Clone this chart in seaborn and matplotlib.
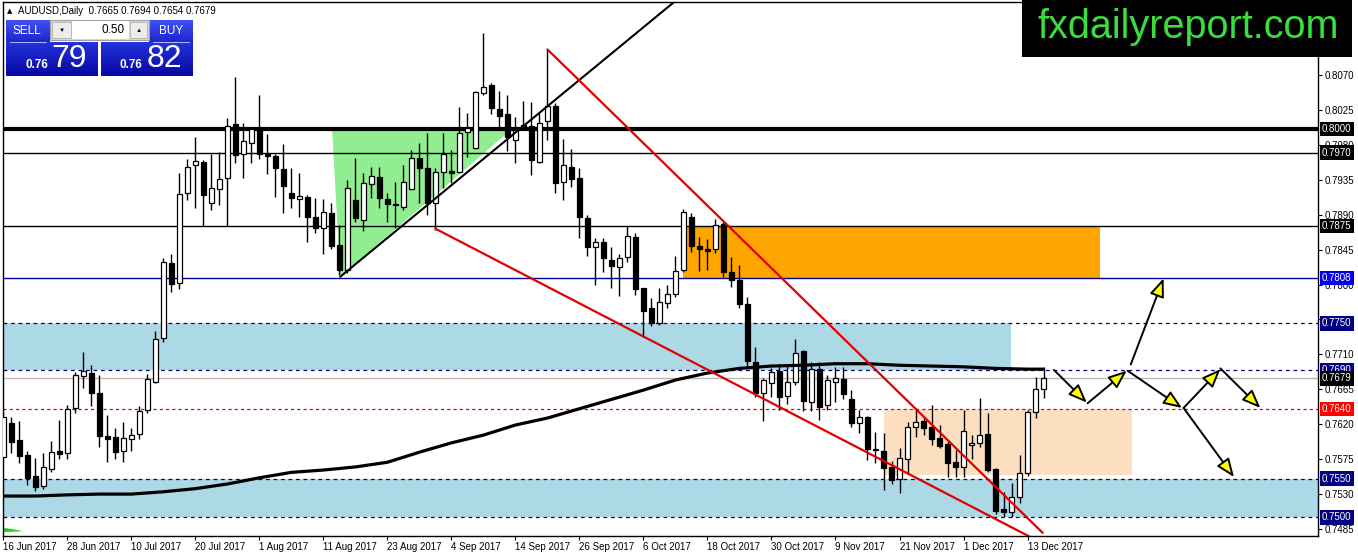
import numpy as np
import pandas as pd
import seaborn as sns
import matplotlib.pyplot as plt
from matplotlib.patches import Rectangle, Polygon
from matplotlib.colors import LinearSegmentedColormap
import matplotlib.transforms as mtransforms

sns.set_style("white")
plt.rcParams['font.family'] = ['Liberation Sans', 'DejaVu Sans']

# daily AUDUSD candles, 16 Jun 2017 .. 15 Dec 2017
opens = [0.7578, 0.7622, 0.7600, 0.7580, 0.7553, 0.7540, 0.7562, 0.7585, 0.7583, 0.7641,
         0.7682, 0.7686, 0.7660, 0.7605, 0.7604, 0.7585, 0.7601, 0.7607, 0.7638, 0.7674,
         0.7731, 0.7828, 0.7802, 0.7918, 0.7954, 0.7958, 0.7905, 0.7923, 0.7937, 0.8007,
         0.7968, 0.7982, 0.8002, 0.7968, 0.7966, 0.7949, 0.7918, 0.7910, 0.7913, 0.7887,
         0.7873, 0.7892, 0.7851, 0.7819, 0.7909, 0.7883, 0.7930, 0.7939, 0.7910, 0.7904,
         0.7900, 0.7923, 0.7963, 0.7950, 0.7905, 0.7945, 0.7946, 0.7945, 0.7997, 0.7976,
         0.8047, 0.8057, 0.8026, 0.8020, 0.7986, 0.8006, 0.8004, 0.7958, 0.8011, 0.8030,
         0.7932, 0.7951, 0.7937, 0.7886, 0.7848, 0.7855, 0.7832, 0.7823, 0.7836, 0.7861,
         0.7795, 0.7770, 0.7750, 0.7776, 0.7788, 0.7819, 0.7887, 0.7850, 0.7846, 0.7846,
         0.7878, 0.7816, 0.7806, 0.7775, 0.7700, 0.7660, 0.7673, 0.7689, 0.7656, 0.7674,
         0.7714, 0.7649, 0.7691, 0.7645, 0.7674, 0.7678, 0.7652, 0.7622, 0.7629, 0.7588,
         0.7586, 0.7565, 0.7549, 0.7575, 0.7616, 0.7624, 0.7616, 0.7602, 0.7594, 0.7571,
         0.7565, 0.7593, 0.7596, 0.7607, 0.7562, 0.7511, 0.7507, 0.7526, 0.7557, 0.7636,
         0.7665]
highs = [0.7636, 0.7629, 0.7624, 0.7585, 0.7576, 0.7583, 0.7598, 0.7625, 0.7645, 0.7687,
         0.7713, 0.7696, 0.7683, 0.7632, 0.7615, 0.7623, 0.7615, 0.7643, 0.7685, 0.7740,
         0.7834, 0.7839, 0.7944, 0.7962, 0.7990, 0.7960, 0.7968, 0.7971, 0.8015, 0.8067,
         0.8008, 0.8003, 0.8044, 0.7994, 0.7968, 0.7981, 0.7950, 0.7944, 0.7915, 0.7912,
         0.7910, 0.7905, 0.7877, 0.7935, 0.7963, 0.7944, 0.7951, 0.7951, 0.7918, 0.7932,
         0.7954, 0.7973, 0.7982, 0.7995, 0.7950, 0.7995, 0.7973, 0.8029, 0.8021, 0.8050,
         0.8124, 0.8060, 0.8049, 0.8044, 0.8016, 0.8037, 0.8035, 0.8021, 0.8103, 0.8034,
         0.7988, 0.7975, 0.7950, 0.7890, 0.7860, 0.7860, 0.7848, 0.7839, 0.7875, 0.7866,
         0.7796, 0.7783, 0.7796, 0.7799, 0.7837, 0.7897, 0.7892, 0.7861, 0.7859, 0.7884,
         0.7880, 0.7836, 0.7825, 0.7784, 0.7720, 0.7680, 0.7692, 0.7698, 0.7695, 0.7730,
         0.7716, 0.7700, 0.7700, 0.7683, 0.7694, 0.7694, 0.7664, 0.7638, 0.7631, 0.7610,
         0.7609, 0.7573, 0.7589, 0.7623, 0.7641, 0.7629, 0.7645, 0.7619, 0.7600, 0.7587,
         0.7638, 0.7606, 0.7654, 0.7634, 0.7564, 0.7533, 0.7544, 0.7580, 0.7638, 0.7681,
         0.7694]
lows = [0.7574, 0.7583, 0.7570, 0.7542, 0.7534, 0.7537, 0.7558, 0.7575, 0.7575, 0.7634,
        0.7667, 0.7643, 0.7591, 0.7571, 0.7575, 0.7571, 0.7585, 0.7601, 0.7634, 0.7673,
        0.7726, 0.7790, 0.7794, 0.7909, 0.7899, 0.7875, 0.7896, 0.7902, 0.7875, 0.7957,
        0.7937, 0.7957, 0.7962, 0.7942, 0.7913, 0.7892, 0.7899, 0.7887, 0.7855, 0.7866,
        0.7839, 0.7846, 0.7812, 0.7815, 0.7881, 0.7869, 0.7912, 0.7899, 0.7881, 0.7873,
        0.7896, 0.7922, 0.7905, 0.7890, 0.7870, 0.7924, 0.7931, 0.7944, 0.7964, 0.7975,
        0.8044, 0.8020, 0.7999, 0.7972, 0.7957, 0.7999, 0.7941, 0.7957, 0.7986, 0.7918,
        0.7909, 0.7926, 0.7860, 0.7837, 0.7799, 0.7816, 0.7796, 0.7785, 0.7829, 0.7787,
        0.7732, 0.7747, 0.7748, 0.7770, 0.7784, 0.7816, 0.7842, 0.7817, 0.7819, 0.7841,
        0.7810, 0.7797, 0.7770, 0.7692, 0.7655, 0.7624, 0.7655, 0.7638, 0.7646, 0.7671,
        0.7637, 0.7637, 0.7625, 0.7638, 0.7649, 0.7652, 0.7616, 0.7609, 0.7574, 0.7570,
        0.7535, 0.7543, 0.7531, 0.7557, 0.7604, 0.7606, 0.7593, 0.7589, 0.7552, 0.7552,
        0.7552, 0.7575, 0.7591, 0.7558, 0.7504, 0.7500, 0.7500, 0.7519, 0.7553, 0.7628,
        0.7654]
closes = [0.7629, 0.7597, 0.7579, 0.7551, 0.7539, 0.7565, 0.7584, 0.7582, 0.7640, 0.7683,
          0.7689, 0.7660, 0.7605, 0.7601, 0.7584, 0.7602, 0.7606, 0.7637, 0.7678, 0.7730,
          0.7829, 0.7801, 0.7917, 0.7951, 0.7959, 0.7915, 0.7924, 0.7936, 0.8004, 0.7967,
          0.7985, 0.8000, 0.7968, 0.7966, 0.7950, 0.7927, 0.7912, 0.7914, 0.7887, 0.7873,
          0.7893, 0.7850, 0.7819, 0.7924, 0.7886, 0.7931, 0.7940, 0.7912, 0.7904, 0.7902,
          0.7932, 0.7963, 0.7950, 0.7905, 0.7945, 0.7968, 0.7944, 0.7995, 0.8002, 0.8048,
          0.8055, 0.8028, 0.8017, 0.7990, 0.7999, 0.8004, 0.7960, 0.8008, 0.8030, 0.7931,
          0.7954, 0.7936, 0.7887, 0.7848, 0.7855, 0.7834, 0.7824, 0.7834, 0.7863, 0.7794,
          0.7766, 0.7750, 0.7778, 0.7788, 0.7817, 0.7893, 0.7850, 0.7846, 0.7843, 0.7877,
          0.7816, 0.7806, 0.7775, 0.7701, 0.7660, 0.7677, 0.7687, 0.7655, 0.7674, 0.7712,
          0.7650, 0.7691, 0.7642, 0.7677, 0.7680, 0.7659, 0.7622, 0.7629, 0.7588, 0.7587,
          0.7564, 0.7548, 0.7576, 0.7616, 0.7623, 0.7615, 0.7601, 0.7592, 0.7570, 0.7565,
          0.7611, 0.7596, 0.7606, 0.7561, 0.7508, 0.7507, 0.7526, 0.7557, 0.7636, 0.7665,
          0.7679]

date_labels = ['16 Jun 2017', '28 Jun 2017', '10 Jul 2017', '20 Jul 2017', '1 Aug 2017',
               '11 Aug 2017', '23 Aug 2017', '4 Sep 2017', '14 Sep 2017', '26 Sep 2017',
               '6 Oct 2017', '18 Oct 2017', '30 Oct 2017', '9 Nov 2017', '21 Nov 2017',
               '1 Dec 2017', '13 Dec 2017']

# moving average read every 4 bars
ma_bars = [0, 4, 8, 12, 16, 20, 24, 28, 32, 36, 40, 44, 48, 52, 56, 60, 64, 68,
           72, 76, 80, 84, 88, 92, 96, 100, 104, 108, 112, 116, 120, 124, 128, 130]
ma_values = [0.75275, 0.75275, 0.7529, 0.7530, 0.7530, 0.7533, 0.7537, 0.7543, 0.7551,
             0.7558, 0.7561, 0.7565, 0.7571, 0.7584, 0.7596, 0.7606, 0.7619, 0.7628,
             0.7640, 0.7652, 0.7664, 0.7677, 0.7686, 0.7692, 0.7695, 0.7696, 0.7698,
             0.7698, 0.7696, 0.7695, 0.7694, 0.7692, 0.7691, 0.7691]

levels = [0.8000, 0.7970, 0.7875, 0.7808, 0.7750, 0.7690, 0.7679, 0.7640, 0.7550, 0.7500]
y_ticks = [0.7485, 0.7530, 0.7575, 0.7620, 0.7665, 0.7710, 0.7755, 0.7800,
           0.7845, 0.7890, 0.7935, 0.7980, 0.8025, 0.8070]
hidden_tick_labels = [0.7755]  # fully covered by the 0.7750 tag in the original

# zones: (bar from, bar to, price low, price high)
zone_upper_blue = (-1, 125.9, 0.7690, 0.7750)
zone_lower_blue = (-1, 170, 0.7500, 0.7550)
zone_orange = (85.0, 137.0, 0.7808, 0.7875)
zone_peach = (110.0, 141.0, 0.7555, 0.7640)

triangle_bars = [41.1, 63.4, 42.1]
triangle_prices = [0.7999, 0.7999, 0.7810]

trend_black = ([42.1, 85.0], [0.7810, 0.8174])
trend_red_upper = ([68.0, 129.9], [0.8103, 0.7480])
trend_red_lower = ([54.0, 129.6], [0.7872, 0.7468])

arrow_from = [(131.3, 0.7690), (135.5, 0.7647), (140.9, 0.7697), (140.5, 0.7689),
              (147.5, 0.7641), (147.5, 0.7641), (152.1, 0.7692)]
arrow_to = [(135.4, 0.7648), (140.4, 0.7689), (145.0, 0.7808), (147.3, 0.7641),
            (152.1, 0.7691), (153.8, 0.7552), (157.1, 0.7641)]

sliver_bars = [-0.3, 1.0, 2.5, 1.0, -0.3]
sliver_prices = [0.74870, 0.74850, 0.74822, 0.74815, 0.74810]

o = np.array(opens); h = np.array(highs); l = np.array(lows); c = np.array(closes)
x = np.arange(len(o))

W, H = 1358, 554
fig = plt.figure(figsize=(W / 100, H / 100), dpi=100)
ax = fig.add_axes([2.5 / W, (H - 536) / H, 1315.5 / W, 534 / H])
ax.set_xlim(-0.1, 164.3)
ax.set_ylim(0.74760, 0.81641)

# zones
for (x0, x1, p0, p1), col in [(zone_upper_blue, '#add8e6'), (zone_lower_blue, '#add8e6'),
                              (zone_orange, '#ffa500'), (zone_peach, '#fde0c2')]:
    ax.add_patch(Rectangle((x0, p0), x1 - x0, p1 - p0, fc=col, ec='none', zorder=0.5))
ax.add_patch(Polygon(list(zip(triangle_bars, triangle_prices)), closed=True,
                     fc='#90ee90', ec='none', zorder=0.6))
ax.add_patch(Polygon(list(zip(sliver_bars, sliver_prices)), closed=True,
                     fc='#22cc22', ec='none', zorder=0.6))

# horizontal levels
level_style = {
    0.8000: dict(color='black', lw=3.0, ls='-'),
    0.7970: dict(color='black', lw=1.0, ls='-'),
    0.7875: dict(color='black', lw=1.0, ls='-'),
    0.7808: dict(color='#0000a0', lw=1.0, ls='-'),
    0.7750: dict(color='#000080', lw=0.9, ls=(0, (3, 3))),
    0.7690: dict(color='#000080', lw=0.9, ls=(0, (3, 3))),
    0.7679: dict(color='#b8b8b8', lw=1.0, ls='-'),
    0.7640: dict(color='#e00000', lw=0.9, ls=(0, (2.5, 2.5))),
    0.7550: dict(color='#000080', lw=0.9, ls=(0, (3, 3))),
    0.7500: dict(color='#000080', lw=0.9, ls=(0, (3, 3))),
}
for lv in levels:
    ax.axhline(lv, zorder=1, **level_style[lv])

# candles
up = c >= o
ax.vlines(x, l, h, color='black', lw=1.0, zorder=3)
body_bottom = np.minimum(o, c)
body_height = np.maximum(np.abs(c - o), 0.00004)
ax.bar(x[up], body_height[up], bottom=body_bottom[up], width=0.62,
       color='white', edgecolor='black', linewidth=0.9, zorder=3.5)
ax.bar(x[~up], body_height[~up], bottom=body_bottom[~up], width=0.62,
       color='black', edgecolor='black', linewidth=0.9, zorder=3.5)

# moving average
ma_df = pd.DataFrame({'bar': ma_bars, 'ma': ma_values})
sns.lineplot(data=ma_df, x='bar', y='ma', ax=ax, color='black', lw=2.3, zorder=4)

# trend lines
ax.plot(*trend_black, color='black', lw=1.5, zorder=5)
ax.plot(*trend_red_upper, color='#e00000', lw=1.6, zorder=5)
ax.plot(*trend_red_lower, color='#e00000', lw=1.6, zorder=5)

# projected path arrows
for start, end in zip(arrow_from, arrow_to):
    ax.annotate('', xy=end, xytext=start, zorder=6,
                arrowprops=dict(arrowstyle='-|>,head_length=0.8,head_width=0.32',
                                fc='#ffff00', ec='black', lw=1.4,
                                mutation_scale=14, shrinkA=0, shrinkB=0))

# axes
ax.set_xlabel('')
ax.set_ylabel('')
for sp in ax.spines.values():
    sp.set_visible(True)
    sp.set_color('black')
    sp.set_linewidth(1.0)
ax.yaxis.tick_right()
ax.set_yticks(y_ticks)
ax.set_yticklabels(['' if v in hidden_tick_labels else f'{v:.4f}' for v in y_ticks])
ax.set_xticks(np.arange(0, 129, 8))
ax.set_xticklabels(date_labels, ha='left')
ax.tick_params(axis='y', right=True, left=False, labelright=True, labelleft=False,
               direction='out', length=3, width=0.8, pad=2, labelsize=7, colors='black')
ax.tick_params(axis='x', bottom=True, direction='out', length=3, width=0.8, pad=1,
               labelsize=7, colors='black')

# price tags on the axis
tag_color = {0.8000: 'black', 0.7970: 'black', 0.7875: 'black', 0.7808: '#0000ee',
             0.7750: '#000080', 0.7690: '#000080', 0.7679: 'black', 0.7640: '#ff0000',
             0.7550: '#000080', 0.7500: '#000080'}
trans = mtransforms.blended_transform_factory(ax.transAxes, ax.transData)
for lv in levels:
    ax.text(1 + 4 / 1315.5, lv, f'{lv:.4f}', transform=trans, ha='left', va='center',
            fontsize=7, color='white', clip_on=False, zorder=10,
            bbox=dict(boxstyle='square,pad=0.22', fc=tag_color[lv], ec='none'))

# overlay in pixel coordinates for the trade panel and logo
ov = fig.add_axes([0, 0, 1, 1], facecolor='none')
ov.set_xlim(0, W)
ov.set_ylim(H, 0)
ov.axis('off')


def grad_box(x0, y0, x1, y1, c_top, c_bot):
    cmap = LinearSegmentedColormap.from_list('g', [c_top, c_bot])
    grad = np.linspace(0, 1, 64).reshape(-1, 1)
    ov.imshow(grad, cmap=cmap, extent=[x0, x1, y1, y0], aspect='auto', zorder=2)


grad_box(6, 20, 50, 42, '#4050f4', '#1c26cc')
grad_box(149, 20, 193, 42, '#4050f4', '#1c26cc')
grad_box(6, 42, 98, 76, '#2232dc', '#0808a0')
grad_box(101, 42, 193, 76, '#2232dc', '#0808a0')
ov.set_xlim(0, W)
ov.set_ylim(H, 0)
ov.plot([10, 46], [41.5, 41.5], color='#a8b0ff', lw=0.8, zorder=3)
ov.plot([153, 189], [41.5, 41.5], color='#a8b0ff', lw=0.8, zorder=3)
ov.add_patch(Rectangle((50, 20), 99, 20, fc='#d8d8d8', ec='#a0a0a0', lw=0.8, zorder=2))
ov.add_patch(Rectangle((72, 21), 57, 18, fc='white', ec='none', zorder=2.5))
ov.add_patch(Rectangle((52, 22), 19, 16, fc='#ececec', ec='#b0b0b0', lw=0.6, zorder=2.5))
ov.add_patch(Rectangle((130, 22), 17, 16, fc='#ececec', ec='#b0b0b0', lw=0.6, zorder=2.5))
ov.text(61.5, 30, '\u25bc', fontsize=4.5, ha='center', va='center', color='black', zorder=3)
ov.text(138.5, 30, '\u25b2', fontsize=4.5, ha='center', va='center', color='black', zorder=3)
ov.text(125, 30, '0.50', fontsize=8.5, ha='right', va='center', color='black', zorder=3)
ov.text(27, 31, 'SELL', fontsize=8.5, ha='center', va='center', color='white', zorder=3)
ov.text(171, 31, 'BUY', fontsize=8.5, ha='center', va='center', color='white', zorder=3)
ov.text(37, 65, '0.76', fontsize=8.5, fontweight='bold', ha='center', va='center',
        color='white', zorder=3)
ov.text(69, 59, '79', fontsize=23, ha='center', va='center', color='white', zorder=3)
ov.text(131, 65, '0.76', fontsize=8.5, fontweight='bold', ha='center', va='center',
        color='white', zorder=3)
ov.text(164, 59, '82', fontsize=23, ha='center', va='center', color='white', zorder=3)

ov.text(10, 11, '\u25b2', fontsize=5, ha='center', va='center', color='black',
        family=['DejaVu Sans'])
ov.text(18, 11, f'AUDUSD,Daily  {o[-1]:.4f} {h[-1]:.4f} {l[-1]:.4f} {c[-1]:.4f}',
        fontsize=7, ha='left', va='center', color='black')

ov.add_patch(Rectangle((1022, 0), 330, 57, fc='black', ec='none', zorder=2))
ov.text(1188, 27, 'fxdailyreport.com', fontsize=28.5, ha='center', va='center',
        color='#3cdc3c', zorder=3)

fig.savefig('out.png', dpi=100)
